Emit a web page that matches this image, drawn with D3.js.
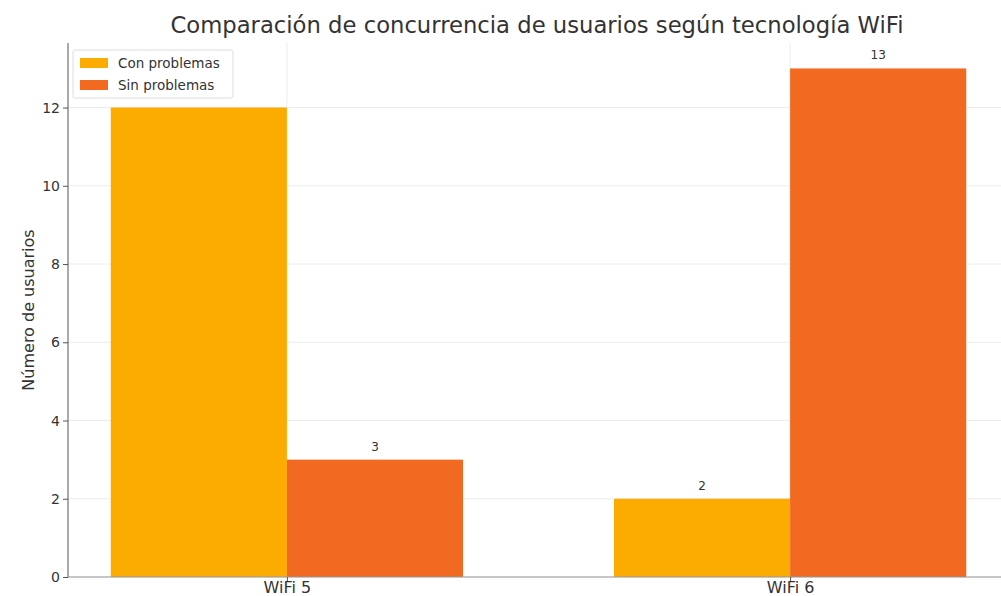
<!DOCTYPE html>
<html>
<head>
<meta charset="utf-8">
<script src="https://cdnjs.cloudflare.com/ajax/libs/d3/7.8.5/d3.min.js"></script>
<style>
  body { margin: 0; background: #fff; }
  svg { display: block; font-family: "DejaVu Sans", sans-serif; }
</style>
</head>
<body>
<svg id="chart" width="1001" height="596"></svg>
<script>
const categories = ["WiFi 5", "WiFi 6"]
const seriesNames = ["Con problemas", "Sin problemas"]
const conProblemas = [12, 2]
const sinProblemas = [3, 13]
const yTicks = [0, 2, 4, 6, 8, 10, 12]
const colors = ["#FCAB00", "#F26A22"]

const width = 1001, height = 596
// axes box (right edge runs past the picture, as in the reference)
const margin = { top: 43, left: 68 }
const axRight = 1009, axBottom = 577
const barW = 0.35

// legend box, used also to leave out a value label it covers
const legendBox = { x: 73, y: 50, w: 160, h: 48 }

const svg = d3.select("#chart")

const xScale = d3.scaleLinear()
    .domain([-0.435, 1.435])
    .range([margin.left, axRight])

const yScale = d3.scaleLinear()
    .domain([0, 13.65])
    .range([axBottom, margin.top])

// grid
svg.append("g").selectAll("line")
    .data(yTicks)
    .enter().append("line")
    .attr("x1", margin.left).attr("x2", axRight)
    .attr("y1", d => yScale(d)).attr("y2", d => yScale(d))
    .attr("stroke", "#ececec").attr("stroke-width", 1)

svg.append("g").selectAll("line")
    .data(categories)
    .enter().append("line")
    .attr("x1", (d, i) => xScale(i)).attr("x2", (d, i) => xScale(i))
    .attr("y1", margin.top).attr("y2", axBottom)
    .attr("stroke", "#ececec").attr("stroke-width", 1)

function underLegend(x, y) {
    return x > legendBox.x && x < legendBox.x + legendBox.w &&
        y > legendBox.y && y < legendBox.y + legendBox.h + 10
}

// bars
const series = [conProblemas, sinProblemas]
series.forEach((vals, s) => {
    svg.append("g").selectAll("rect")
        .data(vals)
        .enter().append("rect")
        .attr("x", (d, i) => xScale(i + (s - 1) * barW))
        .attr("width", xScale(barW) - xScale(0))
        .attr("y", d => yScale(d))
        .attr("height", d => axBottom - yScale(d))
        .attr("fill", colors[s])

    const labels = vals.map((d, i) => ({ v: d, x: xScale(i + (s - 0.5) * barW), y: yScale(d) - 9 }))
        .filter(d => !underLegend(d.x, d.y))

    svg.append("g").selectAll("text")
        .data(labels)
        .enter().append("text")
        .attr("x", d => d.x)
        .attr("y", d => d.y)
        .attr("text-anchor", "middle")
        .attr("font-size", 12)
        .attr("fill", "#333")
        .text(d => d.v)
})

// axes
const yAxis = d3.axisLeft(yScale).tickValues(yTicks).tickSize(5).tickPadding(3)
const gy = svg.append("g")
    .attr("transform", "translate(" + margin.left + ",0)")
    .call(yAxis)
gy.select(".domain").attr("stroke", "#555").attr("d", "M0," + margin.top + "V" + axBottom)
gy.selectAll(".tick line").attr("stroke", "#555")
gy.selectAll("text").attr("font-size", 14).attr("fill", "#333").attr("font-family", "DejaVu Sans")

const xAxis = d3.axisBottom(xScale).tickValues([0, 1]).tickFormat((d) => categories[d]).tickSize(4).tickPadding(1)
const gx = svg.append("g")
    .attr("transform", "translate(0," + axBottom + ")")
    .call(xAxis)
gx.select(".domain").attr("stroke", "#999").attr("d", "M" + margin.left + ",0H" + axRight)
gx.selectAll(".tick line").attr("stroke", "#555")
gx.selectAll("text").attr("font-size", 16).attr("fill", "#333").attr("font-family", "DejaVu Sans")

// title + y label
svg.append("text")
    .attr("x", 537)
    .attr("y", 33)
    .attr("text-anchor", "middle")
    .attr("font-size", 22.7)
    .attr("fill", "#333")
    .text("Comparación de concurrencia de usuarios según tecnología WiFi")

svg.append("text")
    .attr("transform", "translate(34," + ((margin.top + axBottom) / 2) + ") rotate(-90)")
    .attr("text-anchor", "middle")
    .attr("font-size", 16)
    .attr("fill", "#333")
    .text("Número de usuarios")

// legend
const lg = svg.append("g").attr("transform", "translate(" + legendBox.x + "," + legendBox.y + ")")
lg.append("rect")
    .attr("width", legendBox.w).attr("height", legendBox.h).attr("rx", 2)
    .attr("fill", "#fff")
    .attr("stroke", "#ddd")
seriesNames.forEach((name, i) => {
    lg.append("rect")
        .attr("x", 7).attr("y", 8 + i * 22)
        .attr("width", 28).attr("height", 10)
        .attr("fill", colors[i])
    lg.append("text")
        .attr("x", 45).attr("y", 18 + i * 22)
        .attr("font-size", 13.5)
        .attr("fill", "#333")
        .text(name)
})
</script>
</body>
</html>
